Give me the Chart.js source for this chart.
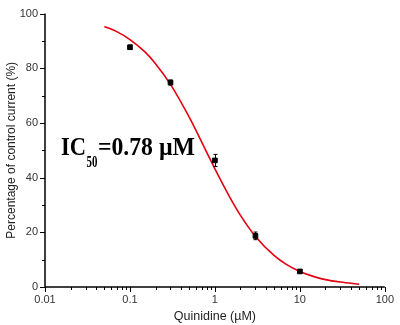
<!DOCTYPE html>
<html>
<head>
<meta charset="utf-8">
<script src="https://cdn.jsdelivr.net/npm/chart.js@4/dist/chart.umd.min.js"></script>
<style>
  body { margin: 0; background: #fff; }
  #myChart { display: block; }
</style>
</head>
<body>
<canvas id="myChart" width="400" height="325"></canvas>
<script>
// measured points (mean +/- error)
var doseX = [0.1, 0.3, 1, 3, 10];
var currentY = [87.7, 74.8, 46.3, 18.7, 5.7];
var currentErr = [0.8, 0.9, 2.2, 1.4, 0.6];

// fitted dose-response curve
var fitX = [0.05, 0.07, 0.1, 0.15, 0.2, 0.3, 0.5, 0.78, 1, 1.5, 2, 3, 5, 7, 10, 15, 20, 30, 50];
var fitY = [95.3, 93.4, 90.5, 86.0, 81.7, 74.1, 62.0, 50.0, 43.2, 32.8, 26.2, 18.5, 11.5, 8.2, 5.7, 3.7, 2.7, 1.8, 1.0];

var xTicks = [0.01, 0.1, 1, 10, 100];
var xTickLabels = ["0.01", "0.1", "1", "10", "100"];
var yTicks = [0, 20, 40, 60, 80, 100];

var ic50 = "0.78";

var narrowFont = "'Liberation Sans Narrow', 'Arial Narrow', 'Liberation Sans', sans-serif";
var labelFont = "'Liberation Sans', Arial, sans-serif";
var tickColor = "#333";

function toPoints(xs, ys) {
  var out = [];
  for (var i = 0; i < xs.length; i++) {
    out.push({ x: xs[i], y: ys[i] });
  }
  return out;
}

// axis lines plus major/minor tick marks
var axesPlugin = {
  id: "axesTicks",
  afterDraw: function (chart) {
    var ctx = chart.ctx;
    var xs = chart.scales.x;
    var ys = chart.scales.y;
    var left = chart.chartArea.left;
    var right = chart.chartArea.right;
    var top = chart.chartArea.top;
    var bottom = chart.chartArea.bottom;
    ctx.save();
    ctx.strokeStyle = "#000";
    ctx.lineWidth = 1.5;
    ctx.beginPath();
    ctx.moveTo(left, top);
    ctx.lineTo(left, bottom);
    ctx.lineTo(right, bottom);
    ctx.stroke();

    ctx.lineWidth = 1;
    ctx.beginPath();
    // y ticks every 10, long on the labelled ones
    for (var v = 0; v <= 100; v += 10) {
      var py = Math.round(ys.getPixelForValue(v)) + 0.5;
      var len = v % 20 === 0 ? 5 : 3;
      ctx.moveTo(left - len, py);
      ctx.lineTo(left, py);
    }
    // x ticks: decades long, 2..9 short
    for (var d = 0; d < xTicks.length; d++) {
      var base = xTicks[d];
      for (var m = 1; m <= 9; m++) {
        var val = base * m;
        if (val > 100.0001) break;
        var px = Math.round(xs.getPixelForValue(val)) + 0.5;
        var l = m === 1 ? 5 : 3;
        ctx.moveTo(px, bottom);
        ctx.lineTo(px, bottom + l);
      }
    }
    ctx.stroke();
    ctx.restore();
  }
};

// vertical error bars with small caps
var errorPlugin = {
  id: "errorBars",
  afterDatasetsDraw: function (chart) {
    var ctx = chart.ctx;
    var xs = chart.scales.x;
    var ys = chart.scales.y;
    ctx.save();
    ctx.strokeStyle = "#000";
    ctx.lineWidth = 1;
    ctx.beginPath();
    for (var i = 0; i < doseX.length; i++) {
      var px = Math.round(xs.getPixelForValue(doseX[i])) + 0.5;
      var yHi = ys.getPixelForValue(currentY[i] + currentErr[i]);
      var yLo = ys.getPixelForValue(currentY[i] - currentErr[i]);
      ctx.moveTo(px, yHi);
      ctx.lineTo(px, yLo);
      ctx.moveTo(px - 2, yHi);
      ctx.lineTo(px + 2, yHi);
      ctx.moveTo(px - 2, yLo);
      ctx.lineTo(px + 2, yLo);
    }
    ctx.stroke();
    ctx.restore();
  }
};

// IC50 note with subscript
var notePlugin = {
  id: "ic50Note",
  afterDraw: function (chart) {
    var ctx = chart.ctx;
    var x = chart.chartArea.left + 16;
    var y = chart.chartArea.top + 141;
    var big = "bold 25px 'Liberation Serif', 'Times New Roman', serif";
    var small = "bold 16px 'Liberation Serif', 'Times New Roman', serif";
    ctx.save();
    ctx.fillStyle = "#000";
    ctx.textBaseline = "alphabetic";
    ctx.textAlign = "left";

    ctx.save();
    ctx.translate(x, y);
    ctx.scale(0.9, 1);
    ctx.font = big;
    ctx.fillText("IC", 0, 0);
    var w1 = ctx.measureText("IC").width * 0.9;
    ctx.restore();

    ctx.save();
    ctx.translate(x + w1 + 0.5, y + 12);
    ctx.scale(0.68, 1);
    ctx.font = small;
    ctx.fillText("50", 0, 0);
    var w2 = ctx.measureText("50").width * 0.68;
    ctx.restore();

    ctx.save();
    ctx.translate(x + w1 + w2 + 1, y);
    ctx.scale(0.95, 1);
    ctx.font = big;
    ctx.fillText("=" + ic50 + " \u00B5M", 0, 0);
    ctx.restore();

    ctx.restore();
  }
};

var ctx = document.getElementById("myChart").getContext("2d");
var myChart = new Chart(ctx, {
  type: "scatter",
  data: {
    datasets: [
      {
        label: "Quinidine",
        data: toPoints(doseX, currentY),
        pointStyle: "rect",
        pointRadius: 3.3,
        pointBorderWidth: 1,
        backgroundColor: "#000",
        borderColor: "#000",
        showLine: false
      },
      {
        label: "Fit",
        data: toPoints(fitX, fitY),
        showLine: true,
        pointRadius: 0,
        borderColor: "#e3000f",
        borderWidth: 1.6,
        cubicInterpolationMode: "monotone",
        fill: false
      }
    ]
  },
  options: {
    responsive: false,
    animation: false,
    events: [],
    layout: { padding: { top: 11, right: 12, left: 0, bottom: 0 } },
    plugins: {
      legend: { display: false },
      tooltip: { enabled: false }
    },
    scales: {
      x: {
        type: "logarithmic",
        min: 0.01,
        max: 100,
        grid: { display: false, drawTicks: false },
        border: { display: false },
        afterBuildTicks: function (s) {
          s.ticks = xTicks.map(function (v) { return { value: v }; });
        },
        afterFit: function (s) { s.height = 38; },
        ticks: {
          autoSkip: false,
          maxRotation: 0,
          padding: 6,
          color: tickColor,
          font: { family: narrowFont, size: 11 },
          callback: function (value) {
            var i = xTicks.indexOf(value);
            return i >= 0 ? xTickLabels[i] : "";
          }
        },
        title: {
          display: true,
          text: "Quinidine (\u00B5M)",
          color: "#222",
          font: { family: narrowFont, size: 12.5, lineHeight: 1 },
          padding: { top: 0, bottom: 2 }
        }
      },
      y: {
        min: 0,
        max: 100,
        grid: { display: false, drawTicks: false },
        border: { display: false },
        afterBuildTicks: function (s) {
          s.ticks = yTicks.map(function (v) { return { value: v }; });
        },
        afterFit: function (s) { s.width = 45; },
        ticks: {
          padding: 7,
          color: tickColor,
          font: { family: narrowFont, size: 11 }
        },
        title: {
          display: true,
          text: "Percentage of control current (%)",
          color: "#222",
          font: { family: labelFont, size: 12 },
          padding: { top: 4, bottom: 0 }
        }
      }
    }
  },
  plugins: [errorPlugin, axesPlugin, notePlugin]
});
</script>
</body>
</html>
